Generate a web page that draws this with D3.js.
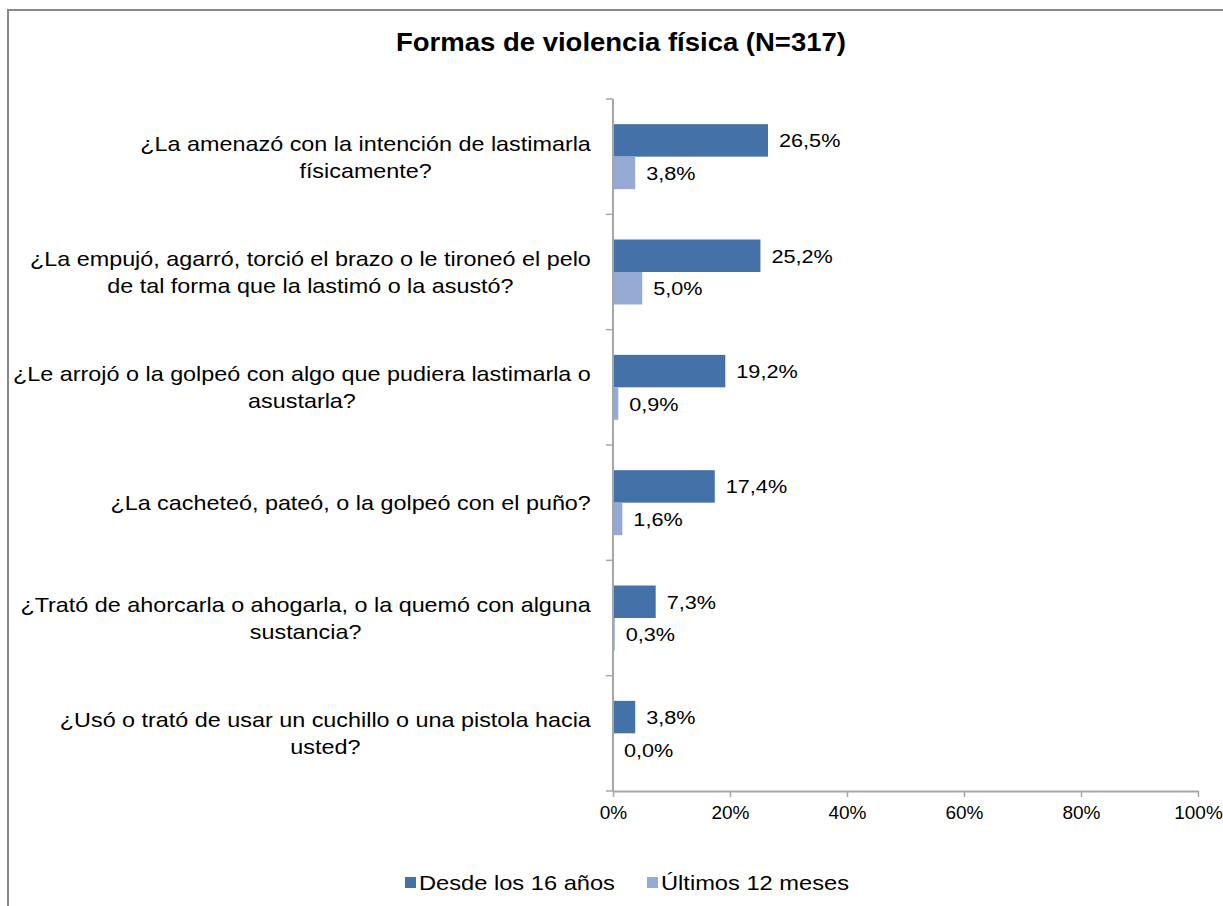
<!DOCTYPE html>
<html>
<head>
<meta charset="utf-8">
<script src="https://cdn.jsdelivr.net/npm/d3@7"></script>
<style>
  body { margin: 0; background: #fff; }
  svg { display: block; font-family: "Liberation Sans", Arial, sans-serif; }
</style>
</head>
<body>
<svg id="chart" width="1223" height="906"></svg>
<script>
// chart values
const title = 'Formas de violencia física (N=317)';
const categories = [
  ['¿La amenazó con la intención de lastimarla', 'físicamente?'],
  ['¿La empujó, agarró, torció el brazo o le tironeó el pelo', 'de tal forma que la lastimó o la asustó?'],
  ['¿Le arrojó o la golpeó con algo que pudiera lastimarla o', 'asustarla?'],
  ['¿La cacheteó, pateó, o la golpeó con el puño?'],
  ['¿Trató de ahorcarla o ahogarla, o la quemó con alguna', 'sustancia?'],
  ['¿Usó o trató de usar un cuchillo o una pistola hacia', 'usted?']
];
const seriesNames = ['Desde los 16 años', 'Últimos 12 meses'];
const desde16 = [26.5, 25.2, 19.2, 17.4, 7.3, 3.8];
const ultimos12 = [3.8, 5.0, 0.9, 1.6, 0.3, 0.0];
const xTicks = [0, 20, 40, 60, 80, 100];

const COLORS = ['#4472a8', '#95aad3'];
const AXIS_COLOR = '#a6a6a6';

const svg = d3.select('#chart');

// the source text is a bit wider than Arial, stretch it horizontally around its anchor
function stretch(sel, sx) {
  sel.each(function () {
    const ax = +this.getAttribute('x') || 0;
    this.setAttribute('transform', `translate(${ax},0) scale(${sx},1) translate(${-ax},0)`);
  });
}

// outer frame of the chart area
svg.append('rect')
  .attr('x', 8).attr('y', 10)
  .attr('width', 1400).attr('height', 1200)
  .attr('fill', 'none')
  .attr('stroke', '#888')
  .attr('stroke-width', 2);

svg.append('text')
  .attr('x', 621).attr('y', 51)
  .attr('text-anchor', 'middle')
  .attr('font-size', 25)
  .attr('font-weight', 'bold')
  .text(title)
  .call(stretch, 1.1);

const plot = { left: 613, right: 1198, top: 99, bottom: 791 };

const x = d3.scaleLinear().domain([0, 100]).range([plot.left, plot.right]);
const y = d3.scaleBand()
  .domain(d3.range(categories.length))
  .range([plot.top, plot.bottom]);
const inner = d3.scaleBand()
  .domain([0, 1])
  .range([0, y.bandwidth()])
  .paddingOuter(0.775)
  .paddingInner(0);

const rows = categories.map((c, i) => ({ i, vals: [desde16[i], ultimos12[i]] }));

// bars + value labels
const grp = svg.append('g');
rows.forEach(r => {
  r.vals.forEach((v, s) => {
    const yy = y(r.i) + inner(s);
    grp.append('rect')
      .attr('x', x(0))
      .attr('y', yy)
      .attr('width', x(v) - x(0))
      .attr('height', inner.bandwidth())
      .attr('fill', COLORS[s]);
    grp.append('text')
      .attr('x', x(v) + 11)
      .attr('y', yy + inner.bandwidth() / 2 + 7)
      .attr('font-size', 19)
      .attr('fill', '#000')
      .text(v.toFixed(1).replace('.', ',') + '%')
      .call(stretch, 1.14);
  });
});

// y axis: line + ticks between categories
svg.append('line')
  .attr('x1', plot.left).attr('x2', plot.left)
  .attr('y1', plot.top).attr('y2', plot.bottom)
  .attr('stroke', AXIS_COLOR).attr('stroke-width', 2);
d3.range(categories.length + 1).forEach(k => {
  const yy = k < categories.length ? y(k) : plot.bottom;
  svg.append('line')
    .attr('x1', plot.left - 7).attr('x2', plot.left)
    .attr('y1', yy).attr('y2', yy)
    .attr('stroke', AXIS_COLOR).attr('stroke-width', 1.5);
});

// category labels: lines centred on each other, block right-aligned
const LABEL_RIGHT = 591;
const LINE_H = 27;
const LABEL_SX = 1.14;
categories.forEach((lines, i) => {
  const t = svg.append('text')
    .attr('font-size', 20.5)
    .attr('text-anchor', 'middle')
    .attr('fill', '#000');
  const cy = y(i) + y.bandwidth() / 2;
  const y0 = cy - (lines.length - 1) * LINE_H / 2 + 7.5;
  const spans = lines.map((l, j) => t.append('tspan').attr('x', 0).attr('y', y0 + j * LINE_H).text(l));
  const maxW = d3.max(spans, s => s.node().getComputedTextLength()) * LABEL_SX;
  t.attr('transform', `translate(${LABEL_RIGHT - maxW / 2},0) scale(${LABEL_SX},1)`);
});

// x axis
const xAxis = svg.append('g')
  .attr('transform', `translate(0,${plot.bottom})`)
  .call(d3.axisBottom(x)
    .tickValues(xTicks)
    .tickSize(6)
    .tickSizeOuter(0)
    .tickPadding(9)
    .tickFormat(d => d + '%'));
xAxis.select('.domain').attr('stroke', AXIS_COLOR).attr('stroke-width', 2);
xAxis.selectAll('.tick line').attr('stroke', AXIS_COLOR).attr('stroke-width', 1.5);
xAxis.selectAll('.tick text')
  .attr('font-size', 19)
  .attr('font-family', '"Liberation Sans", Arial, sans-serif')
  .attr('fill', '#000');

// legend
const legendX = [405, 647];
seriesNames.forEach((name, s) => {
  svg.append('rect')
    .attr('x', legendX[s]).attr('y', 877)
    .attr('width', 11).attr('height', 11)
    .attr('fill', COLORS[s]);
  svg.append('text')
    .attr('x', legendX[s] + 14).attr('y', 890)
    .attr('font-size', 20.5)
    .text(name)
    .call(stretch, 1.155);
});
</script>
</body>
</html>
